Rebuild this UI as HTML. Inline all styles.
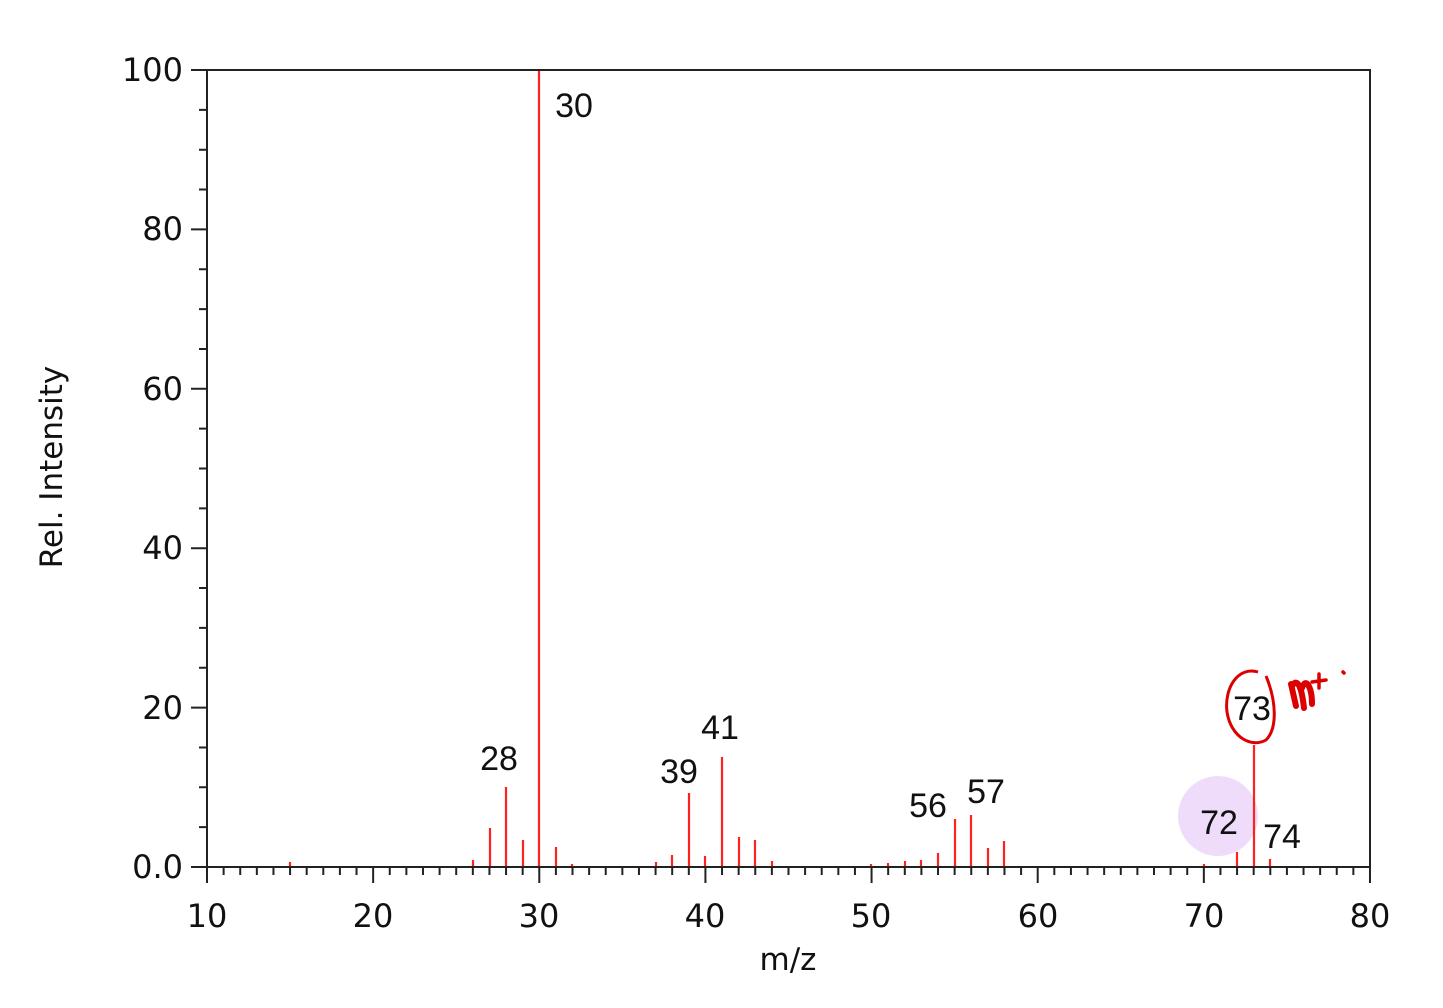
<!DOCTYPE html>
<html><head><meta charset="utf-8"><style>body{margin:0;background:#fff}svg{display:block}</style></head>
<body>
<svg width="1443" height="1008" xmlns="http://www.w3.org/2000/svg">
<rect width="1443" height="1008" fill="#fff"/>
<circle cx="1218" cy="816" r="40" fill="#efdcfb"/>
<g stroke="#ff2020" stroke-width="2.2">
<line x1="290" y1="867" x2="290" y2="862"/>
<line x1="473" y1="867" x2="473" y2="860"/>
<line x1="490" y1="867" x2="490" y2="828"/>
<line x1="506" y1="867" x2="506" y2="787"/>
<line x1="523" y1="867" x2="523" y2="840"/>
<line x1="539" y1="867" x2="539" y2="70"/>
<line x1="556" y1="867" x2="556" y2="847"/>
<line x1="572" y1="867" x2="572" y2="864"/>
<line x1="656" y1="867" x2="656" y2="862"/>
<line x1="672" y1="867" x2="672" y2="855"/>
<line x1="689" y1="867" x2="689" y2="793"/>
<line x1="705" y1="867" x2="705" y2="856"/>
<line x1="722" y1="867" x2="722" y2="757"/>
<line x1="739" y1="867" x2="739" y2="837"/>
<line x1="755" y1="867" x2="755" y2="840"/>
<line x1="772" y1="867" x2="772" y2="861"/>
<line x1="871" y1="867" x2="871" y2="864"/>
<line x1="888" y1="867" x2="888" y2="863"/>
<line x1="905" y1="867" x2="905" y2="861"/>
<line x1="921" y1="867" x2="921" y2="860"/>
<line x1="938" y1="867" x2="938" y2="853"/>
<line x1="955" y1="867" x2="955" y2="819"/>
<line x1="971" y1="867" x2="971" y2="815"/>
<line x1="988" y1="867" x2="988" y2="848"/>
<line x1="1004" y1="867" x2="1004" y2="841"/>
<line x1="1204" y1="867" x2="1204" y2="864"/>
<line x1="1237" y1="867" x2="1237" y2="852"/>
<line x1="1254" y1="867" x2="1254" y2="745"/>
<line x1="1270" y1="867" x2="1270" y2="859"/>
</g>
<rect x="207" y="70" width="1163" height="797" fill="none" stroke="#222" stroke-width="2"/>
<path fill="none" stroke="#222" stroke-width="2" d="M207,867v16
m16.614,-16v8 m16.614,-8v8 m16.614,-8v8 m16.614,-8v8 m16.614,-8v8 m16.614,-8v8 m16.614,-8v8 m16.614,-8v8 m16.614,-8v8 m16.614,-8v16
m16.614,-16v8 m16.614,-8v8 m16.614,-8v8 m16.614,-8v8 m16.614,-8v8 m16.614,-8v8 m16.614,-8v8 m16.614,-8v8 m16.614,-8v8 m16.614,-8v16
m16.614,-16v8 m16.614,-8v8 m16.614,-8v8 m16.614,-8v8 m16.614,-8v8 m16.614,-8v8 m16.614,-8v8 m16.614,-8v8 m16.614,-8v8 m16.614,-8v16
m16.614,-16v8 m16.614,-8v8 m16.614,-8v8 m16.614,-8v8 m16.614,-8v8 m16.614,-8v8 m16.614,-8v8 m16.614,-8v8 m16.614,-8v8 m16.614,-8v16
m16.614,-16v8 m16.614,-8v8 m16.614,-8v8 m16.614,-8v8 m16.614,-8v8 m16.614,-8v8 m16.614,-8v8 m16.614,-8v8 m16.614,-8v8 m16.614,-8v16
m16.614,-16v8 m16.614,-8v8 m16.614,-8v8 m16.614,-8v8 m16.614,-8v8 m16.614,-8v8 m16.614,-8v8 m16.614,-8v8 m16.614,-8v8 m16.614,-8v16
m16.614,-16v8 m16.614,-8v8 m16.614,-8v8 m16.614,-8v8 m16.614,-8v8 m16.614,-8v8 m16.614,-8v8 m16.614,-8v8 m16.614,-8v8 m16.614,-8v16
M207,867h-16
m16,-39.85h-8 m8,-39.85h-8 m8,-39.85h-8 m8,-39.85h-16
m16,-39.85h-8 m8,-39.85h-8 m8,-39.85h-8 m8,-39.85h-16
m16,-39.85h-8 m8,-39.85h-8 m8,-39.85h-8 m8,-39.85h-16
m16,-39.85h-8 m8,-39.85h-8 m8,-39.85h-8 m8,-39.85h-16
m16,-39.85h-8 m8,-39.85h-8 m8,-39.85h-8 m8,-39.85h-16"/>
<g font-family="DejaVu Sans, sans-serif" font-size="32" fill="#111" text-anchor="end">
<text x="183" y="81">100</text><text x="183" y="240">80</text><text x="183" y="400">60</text><text x="183" y="559">40</text><text x="183" y="719">20</text><text x="183" y="878">0.0</text>
</g>
<g font-family="DejaVu Sans, sans-serif" font-size="32" fill="#111" text-anchor="middle">
<text x="207" y="927">10</text><text x="373" y="927">20</text><text x="539" y="927">30</text><text x="705" y="927">40</text><text x="871" y="927">50</text><text x="1038" y="927">60</text><text x="1204" y="927">70</text><text x="1370" y="927">80</text>
<text x="788" y="970" font-size="31">m/z</text>
<text x="0" y="0" font-size="31" transform="translate(62,467) rotate(-90)">Rel. Intensity</text>
</g>
<g font-family="Liberation Sans, sans-serif" font-size="34" fill="#111" text-anchor="middle">
<text x="574" y="117">30</text><text x="499" y="770">28</text><text x="679" y="783">39</text><text x="720" y="739">41</text>
<text x="928" y="817">56</text><text x="986" y="803">57</text><text x="1219" y="834">72</text><text x="1282" y="848">74</text><text x="1252" y="720">73</text>
</g>
<path d="M1258,672 C1238,666 1224,688 1227,712 C1231,738 1252,748 1266,740 C1278,728 1276,700 1266,676" fill="none" stroke="#d00" stroke-width="3"/>
<path d="M1291,684 L1296,706 M1292,686 C1298,676 1302,690 1304,708 M1302,688 C1306,676 1312,688 1312,704" fill="none" stroke="#d00" stroke-width="6" stroke-linecap="round"/>
<path d="M1312,682 L1326,680 M1319,674 L1319,688 M1343,672 l1,1" fill="none" stroke="#d00" stroke-width="3.5" stroke-linecap="round"/>
</svg>
</body></html>
